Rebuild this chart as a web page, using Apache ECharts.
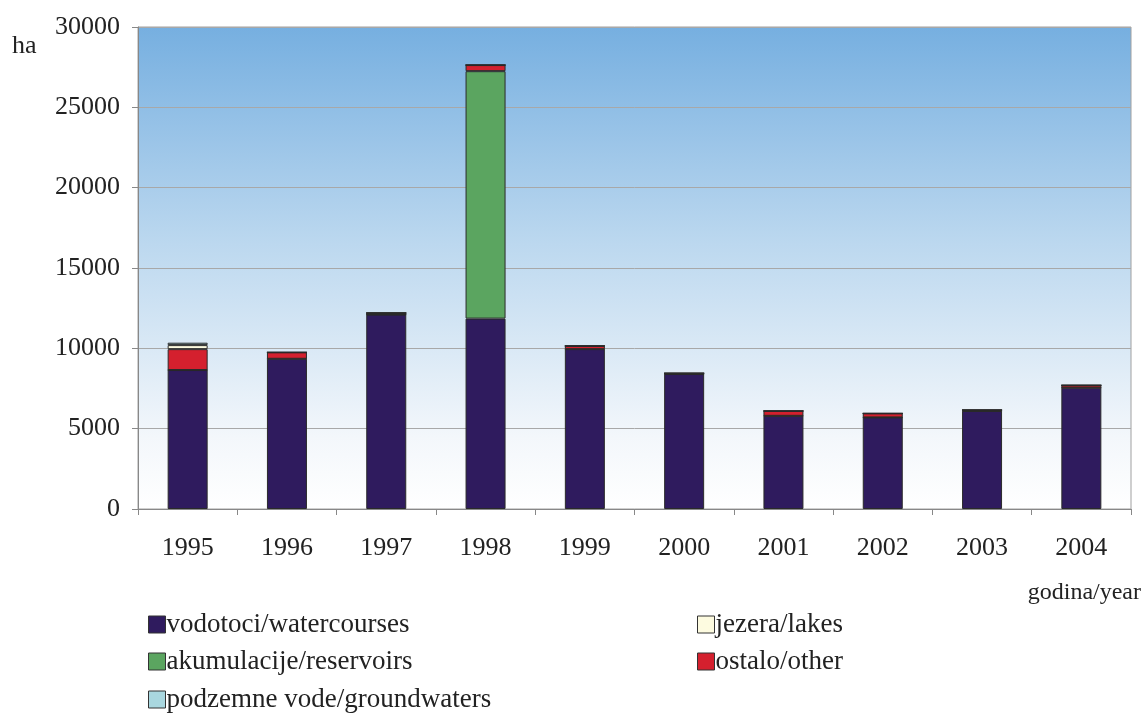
<!DOCTYPE html>
<html>
<head>
<meta charset="utf-8">
<script src="https://cdn.jsdelivr.net/npm/echarts@6/dist/echarts.min.js"></script>
<style>
  html, body { margin: 0; padding: 0; background: #fff; }
  #chart { width: 1144px; height: 725px; }
</style>
</head>
<body>
<div id="chart"></div>
<script>
// godine
const years = ["1995", "1996", "1997", "1998", "1999", "2000", "2001", "2002", "2003", "2004"];

// površine (ha) po vrsti
const vodotoci = [8650, 9350, 12100, 11850, 9950, 8400, 5800, 5700, 6100, 7550];
const akumulacije = [0, 0, 0, 15400, 0, 0, 0, 0, 0, 0];
const ostalo = [1300, 400, 100, 380, 200, 50, 300, 250, 60, 150];
const jezera = [250, 0, 0, 0, 0, 0, 0, 0, 0, 0];
const podzemne = [150, 0, 0, 0, 0, 0, 0, 0, 0, 0];

const yTicks = [0, 5000, 10000, 15000, 20000, 25000, 30000];

const names = {
  vodotoci: "vodotoci/watercourses",
  akumulacije: "akumulacije/reservoirs",
  podzemne: "podzemne vode/groundwaters",
  jezera: "jezera/lakes",
  ostalo: "ostalo/other",
};

const font = "Liberation Serif";

const chart = echarts.init(document.getElementById("chart"));

const barSeries = (name, data, color) => ({
  name: name,
  type: "bar",
  stack: "total",
  data: data,
  barWidth: 40,
  itemStyle: { color: color, borderColor: "#2a2a2a", borderWidth: 1 },
});

// jedna legenda po stavci, da raspored bude kao na slici
const legendItem = (name, left, top) => ({
  left: left,
  top: top,
  data: [name],
  itemWidth: 17,
  itemHeight: 17,
  icon: "rect",
  padding: 0,
  itemStyle: { borderColor: "#333", borderWidth: 1 },
  textStyle: { fontFamily: font, fontSize: 27, color: "#222", padding: [0, 0, 0, -4] },
});

const option = {
  animation: false,
  grid: {
    left: 138,
    right: 12,
    top: 27,
    bottom: 216,
    show: true,
    borderColor: "#a0a0a0",
    borderWidth: 1,
    backgroundColor: new echarts.graphic.LinearGradient(0, 0, 0, 1, [
      { offset: 0, color: "#76afe0" },
      { offset: 0.45, color: "#bcd8ef" },
      { offset: 0.85, color: "#f3f7fb" },
      { offset: 1, color: "#ffffff" },
    ]),
  },
  legend: [
    legendItem(names.vodotoci, 148, 611),
    legendItem(names.akumulacije, 148, 648),
    legendItem(names.podzemne, 148, 686),
    legendItem(names.jezera, 697, 611),
    legendItem(names.ostalo, 697, 648),
  ],
  xAxis: {
    type: "category",
    data: years,
    axisLine: { lineStyle: { color: "#888" } },
    axisTick: { show: true, length: 6, lineStyle: { color: "#888" } },
    axisLabel: { fontFamily: font, fontSize: 26, color: "#222", margin: 26 },
    name: "godina/year",
    nameLocation: "end",
    nameGap: 0,
    nameTextStyle: {
      fontFamily: font,
      fontSize: 24,
      color: "#222",
      align: "right",
      verticalAlign: "top",
      padding: [72, -10, 0, 0],
    },
  },
  yAxis: {
    type: "value",
    min: yTicks[0],
    max: yTicks[yTicks.length - 1],
    interval: 5000,
    axisLine: { show: true, lineStyle: { color: "#888" } },
    axisTick: { show: true, length: 6, lineStyle: { color: "#888" } },
    splitLine: { show: true, lineStyle: { color: "#a8a8a8", width: 1 } },
    axisLabel: {
      fontFamily: font,
      fontSize: 26,
      color: "#222",
      margin: 18,
      formatter: (v) => String(v),
    },
    name: "ha",
    nameLocation: "end",
    nameGap: 0,
    nameTextStyle: {
      fontFamily: font,
      fontSize: 26,
      color: "#222",
      align: "left",
      verticalAlign: "top",
      padding: [6, 0, 0, -126],
    },
  },
  series: [
    barSeries(names.vodotoci, vodotoci, "#2f1b5e"),
    barSeries(names.akumulacije, akumulacije, "#5ba560"),
    barSeries(names.ostalo, ostalo, "#d4202e"),
    barSeries(names.jezera, jezera, "#fdfbe0"),
    barSeries(names.podzemne, podzemne, "#a9d7df"),
  ],
};

chart.setOption(option);
</script>
</body>
</html>
